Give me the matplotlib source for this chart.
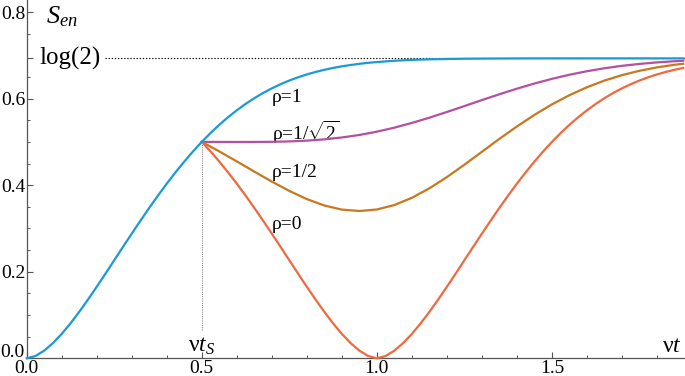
import numpy as np
import matplotlib
matplotlib.use("Agg")
import matplotlib.pyplot as plt
from matplotlib.ticker import FixedLocator, MultipleLocator

# ---- data ----
t_blue = [0.000, 0.025, 0.050, 0.075, 0.100, 0.125, 0.150, 0.175, 0.200, 0.225,
          0.250, 0.275, 0.300, 0.325, 0.350, 0.375, 0.400, 0.425, 0.450, 0.475,
          0.500, 0.525, 0.550, 0.575, 0.600, 0.625, 0.650, 0.675, 0.700, 0.725,
          0.750, 0.775, 0.800, 0.825, 0.850, 0.875, 0.900, 0.925, 0.950, 0.975,
          1.000, 1.050, 1.100, 1.150, 1.200, 1.250, 1.300, 1.400, 1.500, 1.875]
s_blue = [0.0000, 0.0053, 0.0177, 0.0352, 0.0564, 0.0807, 0.1073, 0.1357, 0.1653, 0.1957,
          0.2266, 0.2575, 0.2881, 0.3182, 0.3477, 0.3762, 0.4036, 0.4298, 0.4546, 0.4781,
          0.5001, 0.5206, 0.5396, 0.5571, 0.5731, 0.5878, 0.6011, 0.6131, 0.6238, 0.6334,
          0.6419, 0.6494, 0.6560, 0.6617, 0.6667, 0.6710, 0.6747, 0.6778, 0.6805, 0.6828,
          0.6846, 0.6876, 0.6896, 0.6909, 0.6917, 0.6923, 0.6926, 0.6930, 0.6931, 0.6931]

t_red = [0.500, 0.525, 0.550, 0.575, 0.600, 0.625, 0.650, 0.675, 0.700, 0.725,
         0.750, 0.775, 0.800, 0.825, 0.850, 0.875, 0.900, 0.925, 0.950, 0.975,
         1.000, 1.025, 1.050, 1.075, 1.100, 1.125, 1.150, 1.175, 1.200, 1.225,
         1.250, 1.275, 1.300, 1.325, 1.350, 1.375, 1.400, 1.425, 1.450, 1.475,
         1.500, 1.525, 1.550, 1.575, 1.600, 1.625, 1.650, 1.675, 1.700, 1.725,
         1.750, 1.775, 1.800, 1.825, 1.850, 1.875]
s_rho_zero = [0.5001, 0.4781, 0.4546, 0.4298, 0.4036, 0.3762, 0.3477, 0.3182, 0.2881, 0.2575,
              0.2266, 0.1957, 0.1653, 0.1357, 0.1073, 0.0807, 0.0564, 0.0352, 0.0177, 0.0053,
              0.0000, 0.0053, 0.0177, 0.0352, 0.0564, 0.0807, 0.1073, 0.1357, 0.1653, 0.1957,
              0.2266, 0.2575, 0.2881, 0.3182, 0.3477, 0.3762, 0.4036, 0.4298, 0.4546, 0.4781,
              0.5001, 0.5206, 0.5396, 0.5571, 0.5731, 0.5878, 0.6011, 0.6131, 0.6238, 0.6334,
              0.6419, 0.6494, 0.6560, 0.6617, 0.6667, 0.6710]

t_mid = [0.50, 0.55, 0.60, 0.65, 0.70, 0.75, 0.80, 0.85, 0.90, 0.95,
         1.00, 1.05, 1.10, 1.15, 1.20, 1.25, 1.30, 1.35, 1.40, 1.45,
         1.50, 1.55, 1.60, 1.65, 1.70, 1.75, 1.80, 1.85, 1.875]
s_rho_sqrt = [0.5001, 0.5000, 0.4999, 0.5000, 0.5003, 0.5012, 0.5030, 0.5059, 0.5103, 0.5161,
              0.5237, 0.5330, 0.5439, 0.5561, 0.5692, 0.5829, 0.5967, 0.6102, 0.6231, 0.6350,
              0.6458, 0.6553, 0.6634, 0.6703, 0.6759, 0.6803, 0.6838, 0.6865, 0.6876]
s_rho_half = [0.5001, 0.4781, 0.4550, 0.4315, 0.4084, 0.3868, 0.3679, 0.3531, 0.3436, 0.3404,
              0.3439, 0.3542, 0.3709, 0.3928, 0.4188, 0.4474, 0.4773, 0.5071, 0.5358, 0.5625,
              0.5868, 0.6081, 0.6264, 0.6418, 0.6544, 0.6644, 0.6723, 0.6783, 0.6807]

labels = ["\u03c1=1", "\u03c1=1/$\\sqrt{2}$", "\u03c1=1/2", "\u03c1=0"]
label_pos = [(0.70, 0.603), (0.70, 0.523), (0.70, 0.430), (0.70, 0.310)]

x_ticks = [0.0, 0.5, 1.0, 1.5]
x_ticklabels = ["0.0", "0.5", "1.0", "1.5"]
y_ticks = [0.0, 0.2, 0.4, 0.6, 0.8]
y_ticklabels = ["0.0", "0.2", "0.4", "0.6", "0.8"]

LOG2 = np.log(2)
T_S = 0.5

c_blue = "#1a9ad6"
c_purple = "#b5509e"
c_orange = "#c8781e"
c_red = "#ee6a3e"

plt.rcParams["font.family"] = ["Liberation Serif", "DejaVu Serif"]
plt.rcParams["mathtext.fontset"] = "custom"
plt.rcParams["mathtext.rm"] = "Liberation Serif"
plt.rcParams["mathtext.it"] = "Liberation Serif:italic"
plt.rcParams["mathtext.bf"] = "Liberation Serif:bold"

fig = plt.figure(figsize=(6.85, 3.76), dpi=100)
ax = fig.add_axes([26.7 / 685, (376 - 358.3) / 376, (685 - 26.7) / 685, 358.3 / 376])
ax.set_xlim(0, 1.88)
ax.set_ylim(0, 0.828)

for side in ["top", "right"]:
    ax.spines[side].set_visible(False)
for side in ["left", "bottom"]:
    ax.spines[side].set_color("#555555")
    ax.spines[side].set_linewidth(0.9)

# reference lines
ax.plot([0.224, 1.88], [LOG2, LOG2], color="black", lw=0.8, ls=(0, (1.2, 1.6)))
ax.plot([T_S, T_S], [0.065, 0.497], color="#888888", lw=0.8, ls=(0, (1, 1)))

ax.plot(t_blue, s_blue, color=c_blue, lw=1.6, zorder=5, clip_on=False)
ax.plot(t_mid, s_rho_sqrt, color=c_purple, lw=1.6, zorder=4, clip_on=False)
ax.plot(t_mid, s_rho_half, color=c_orange, lw=1.6, zorder=4, clip_on=False)
ax.plot(t_red, s_rho_zero, color=c_red, lw=1.6, zorder=4, clip_on=False)

for lab, (xx, yy) in zip(labels, label_pos):
    ax.text(xx, yy, lab, fontsize=14, ha="left", va="center")

# ticks
ax.xaxis.set_major_locator(FixedLocator(x_ticks))
ax.set_xticklabels(x_ticklabels)
ax.xaxis.set_minor_locator(MultipleLocator(0.1))
ax.yaxis.set_major_locator(FixedLocator(y_ticks + [LOG2]))
# the bottom y label is placed by hand a little higher (as in the reference)
ax.set_yticklabels([""] + y_ticklabels[1:] + [""])
ax.annotate(y_ticklabels[0], xy=(0, y_ticks[0]), xytext=(-1.5, 4.5),
            textcoords="offset points", ha="right", va="center", fontsize=14,
            annotation_clip=False)
ax.yaxis.set_minor_locator(FixedLocator([0.05, 0.1, 0.15, 0.25, 0.3, 0.35, 0.45, 0.5,
                                         0.55, 0.65, 0.75]))
ax.tick_params(which="major", direction="in", length=4.5, width=0.8, color="#555555",
               labelsize=14, pad=1)
ax.tick_params(which="minor", direction="in", length=2.5, width=0.7, color="#555555")

# annotations
ax.text(0.056, 0.790, r"$S_{en}$", fontsize=19, ha="left", va="center")
ax.text(0.037, LOG2, "log(2)", fontsize=18, ha="left", va="center")
ax.text(1.843, 0.028, "\u03bd$t$", fontsize=17, ha="center", va="center")
ax.text(T_S, 0.028, "\u03bd$t_S$", fontsize=17, ha="center", va="center")

fig.savefig("out.png", dpi=100)
